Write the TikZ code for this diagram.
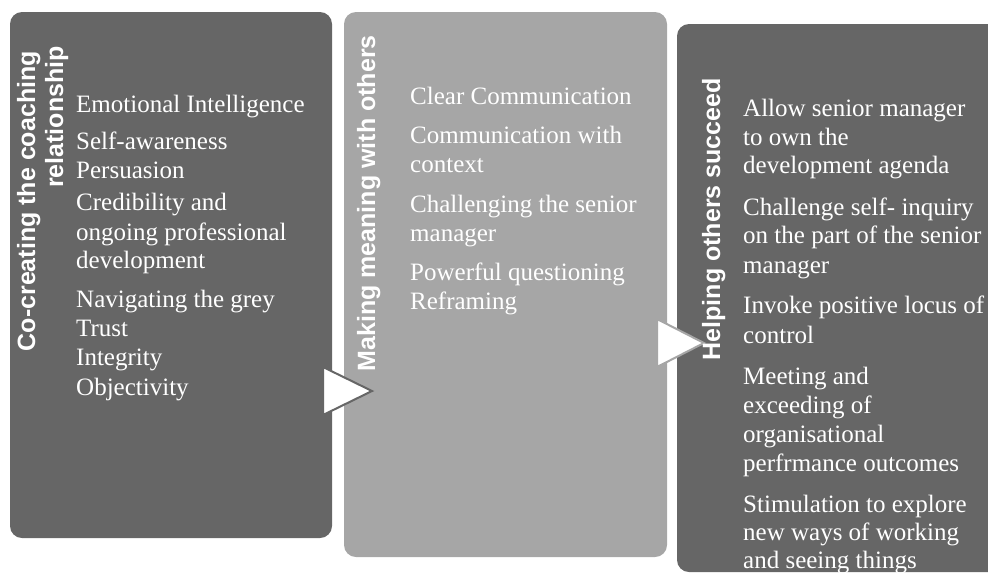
\documentclass[tikz,border=0pt]{standalone}
\usepackage{fontspec}
\setmainfont{Liberation Serif}
\newfontfamily\titlefont{Liberation Sans}
\definecolor{darkbox}{HTML}{666666}
\definecolor{lightbox}{HTML}{A6A6A6}
\begin{document}
\begin{tikzpicture}[x=1pt,y=-1pt,
  panel/.style={rectangle, rounded corners=12pt, draw=none, inner sep=0pt},
  body/.style={anchor=base west, inner sep=0pt, text=white, font=\fontsize{25}{29}\selectfont},
  title/.style={anchor=base east, rotate=90, inner sep=0pt, text=white, font=\titlefont\bfseries\fontsize{25}{29}\selectfont},
  tri/.style={fill=white, line width=2pt, line join=miter}]
\useasboundingbox (0,0) rectangle (988,574);
\begin{scope}
\clip (0,0) rectangle (988,574);
% panels
\node[panel, fill=darkbox, minimum width=322pt, minimum height=526pt] (p1) at (171,275) {};
\node[panel, fill=lightbox, minimum width=323pt, minimum height=545pt] (p2) at (505.5,284.5) {};
\node[panel, fill=darkbox, minimum width=340pt, minimum height=548pt] (p3) at (847,298) {};
% arrows
\coordinate (a1t) at (323,367);
\coordinate (a1b) at (323,415);
\coordinate (a1p) at (372,391);
\draw[tri, draw=darkbox] (a1t) -- (a1p) -- (a1b) -- cycle;
\coordinate (a2t) at (657,319);
\coordinate (a2b) at (657,367);
\coordinate (a2p) at (704,343);
\draw[tri, draw=lightbox] (a2t) -- (a2p) -- (a2b) -- cycle;
% titles
\node[title] (t1a) at (35,51) {Co-creating the coaching};
\node[title] (t1b) at (63,46) {relationship};
\node[title] (t2) at (375,35) {Making meaning with others};
\node[title] (t3) at (720,78) {Helping others succeed};
% left body
\foreach \t/\y [count=\i] in {Emotional Intelligence/112, Self-awareness/149, Persuasion/178,
  Credibility and/210, ongoing professional/240, development/268,
  Navigating the grey/307, Trust/336, Integrity/365, Objectivity/395}
  {\node[body] (l\i) at (76,\y) {\t};}
% middle body
\foreach \t/\y [count=\i] in {Clear Communication/104, Communication with/143, context/172,
  Challenging the senior/212, manager/241, Powerful questioning/280, Reframing/309}
  {\node[body] (m\i) at (410,\y) {\t};}
% right body
\foreach \t/\y [count=\i] in {Allow senior manager/116, to own the/145, development agenda/173,
  Challenge self- inquiry/215, on the part of the senior/243, manager/273,
  Invoke positive locus of/313, control/343,
  Meeting and/384, exceeding of/413, organisational/442, perfrmance outcomes/471,
  Stimulation to explore/512, new ways of working/540, and seeing things/568}
  {\node[body] (r\i) at (743,\y) {\t};}
\end{scope}
\end{tikzpicture}
\end{document}
